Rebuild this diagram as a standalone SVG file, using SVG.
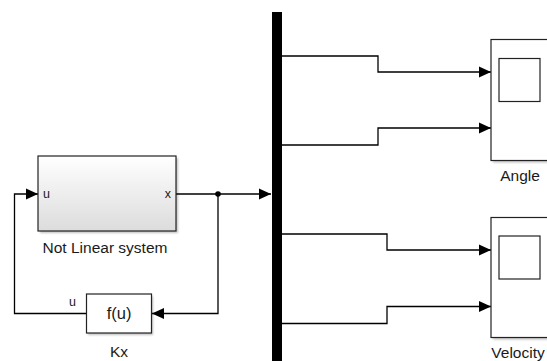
<svg xmlns="http://www.w3.org/2000/svg" width="547" height="361" viewBox="0 0 547 361">
<style>
.ln{fill:none;stroke:#000;stroke-width:1.3}
.blk{stroke:#222;stroke-width:1.2}
.lbl{font-family:"Liberation Sans",Arial,sans-serif;font-size:15.5px;fill:#1a1a1a;text-anchor:middle}
.port{font-family:"Liberation Sans",Arial,sans-serif;font-size:12.5px;fill:#1a1a1a}
.shadow{fill:#000;opacity:0.25;filter:url(#blur)}
</style>
<defs>
<linearGradient id="grad" x1="0" y1="0" x2="0" y2="1">
<stop offset="0" stop-color="#ffffff"/>
<stop offset="1" stop-color="#dcdcdc"/>
</linearGradient>
<filter id="blur" x="-10%" y="-10%" width="130%" height="130%"><feGaussianBlur stdDeviation="1.2"/></filter>
<marker id="arr" viewBox="0 0 12 12" refX="12" refY="6" markerWidth="12" markerHeight="12" markerUnits="userSpaceOnUse" orient="auto">
<path d="M0,0.5 L12,6 L0,11.5 z" fill="#000"/>
</marker>
</defs>
<g id="connectors">
<path class="ln" d="M176,194 H271" marker-end="url(#arr)"/>
<circle cx="218" cy="194" r="2.8" fill="#000"/>
<path class="ln" d="M218,194 V313.5 H152" marker-end="url(#arr)"/>
<path class="ln" d="M86,313.5 H14.5 V194 H38" marker-end="url(#arr)"/>
<path class="ln" d="M282,56 H378 V72 H491" marker-end="url(#arr)"/>
<path class="ln" d="M282,145 H378 V128 H491" marker-end="url(#arr)"/>
<path class="ln" d="M282,234 H387 V250 H491" marker-end="url(#arr)"/>
<path class="ln" d="M282,323.5 H387 V306.5 H491" marker-end="url(#arr)"/>
</g>
<g id="nonlinear">
<rect class="shadow" x="40" y="158" width="138" height="75"/>
<rect class="blk" x="38" y="156" width="138" height="75" fill="url(#grad)"/>
<text class="port" x="43" y="198">u</text>
<text class="port" x="171" y="198" text-anchor="end">x</text>
<text class="lbl" x="105" y="253">Not Linear system</text>
</g>
<g id="kx">
<rect class="shadow" x="88" y="296" width="65" height="39"/>
<rect class="blk" x="86.5" y="294" width="65" height="39" fill="#fff"/>
<text class="lbl" x="119" y="319" style="font-size:16.5px">f(u)</text>
<text class="port" x="72.5" y="306" text-anchor="middle">u</text>
<text class="lbl" x="119" y="357">Kx</text>
</g>
<g id="bus">
<rect x="272" y="12" width="10" height="352" fill="#000"/>
</g>
<g id="angle">
<rect class="shadow" x="493" y="41.5" width="57" height="121"/>
<rect class="blk" x="491" y="39.5" width="57" height="121" fill="#fff"/>
<rect x="499" y="58.5" width="41" height="43" fill="#fff" stroke="#222" stroke-width="1.2"/>
<text class="lbl" x="520" y="181">Angle</text>
</g>
<g id="velocity">
<rect class="shadow" x="493" y="219.5" width="57" height="120"/>
<rect class="blk" x="491" y="217.5" width="57" height="120" fill="#fff"/>
<rect x="499" y="236" width="41" height="43" fill="#fff" stroke="#222" stroke-width="1.2"/>
<text class="lbl" x="518" y="358">Velocity</text>
</g>
</svg>
